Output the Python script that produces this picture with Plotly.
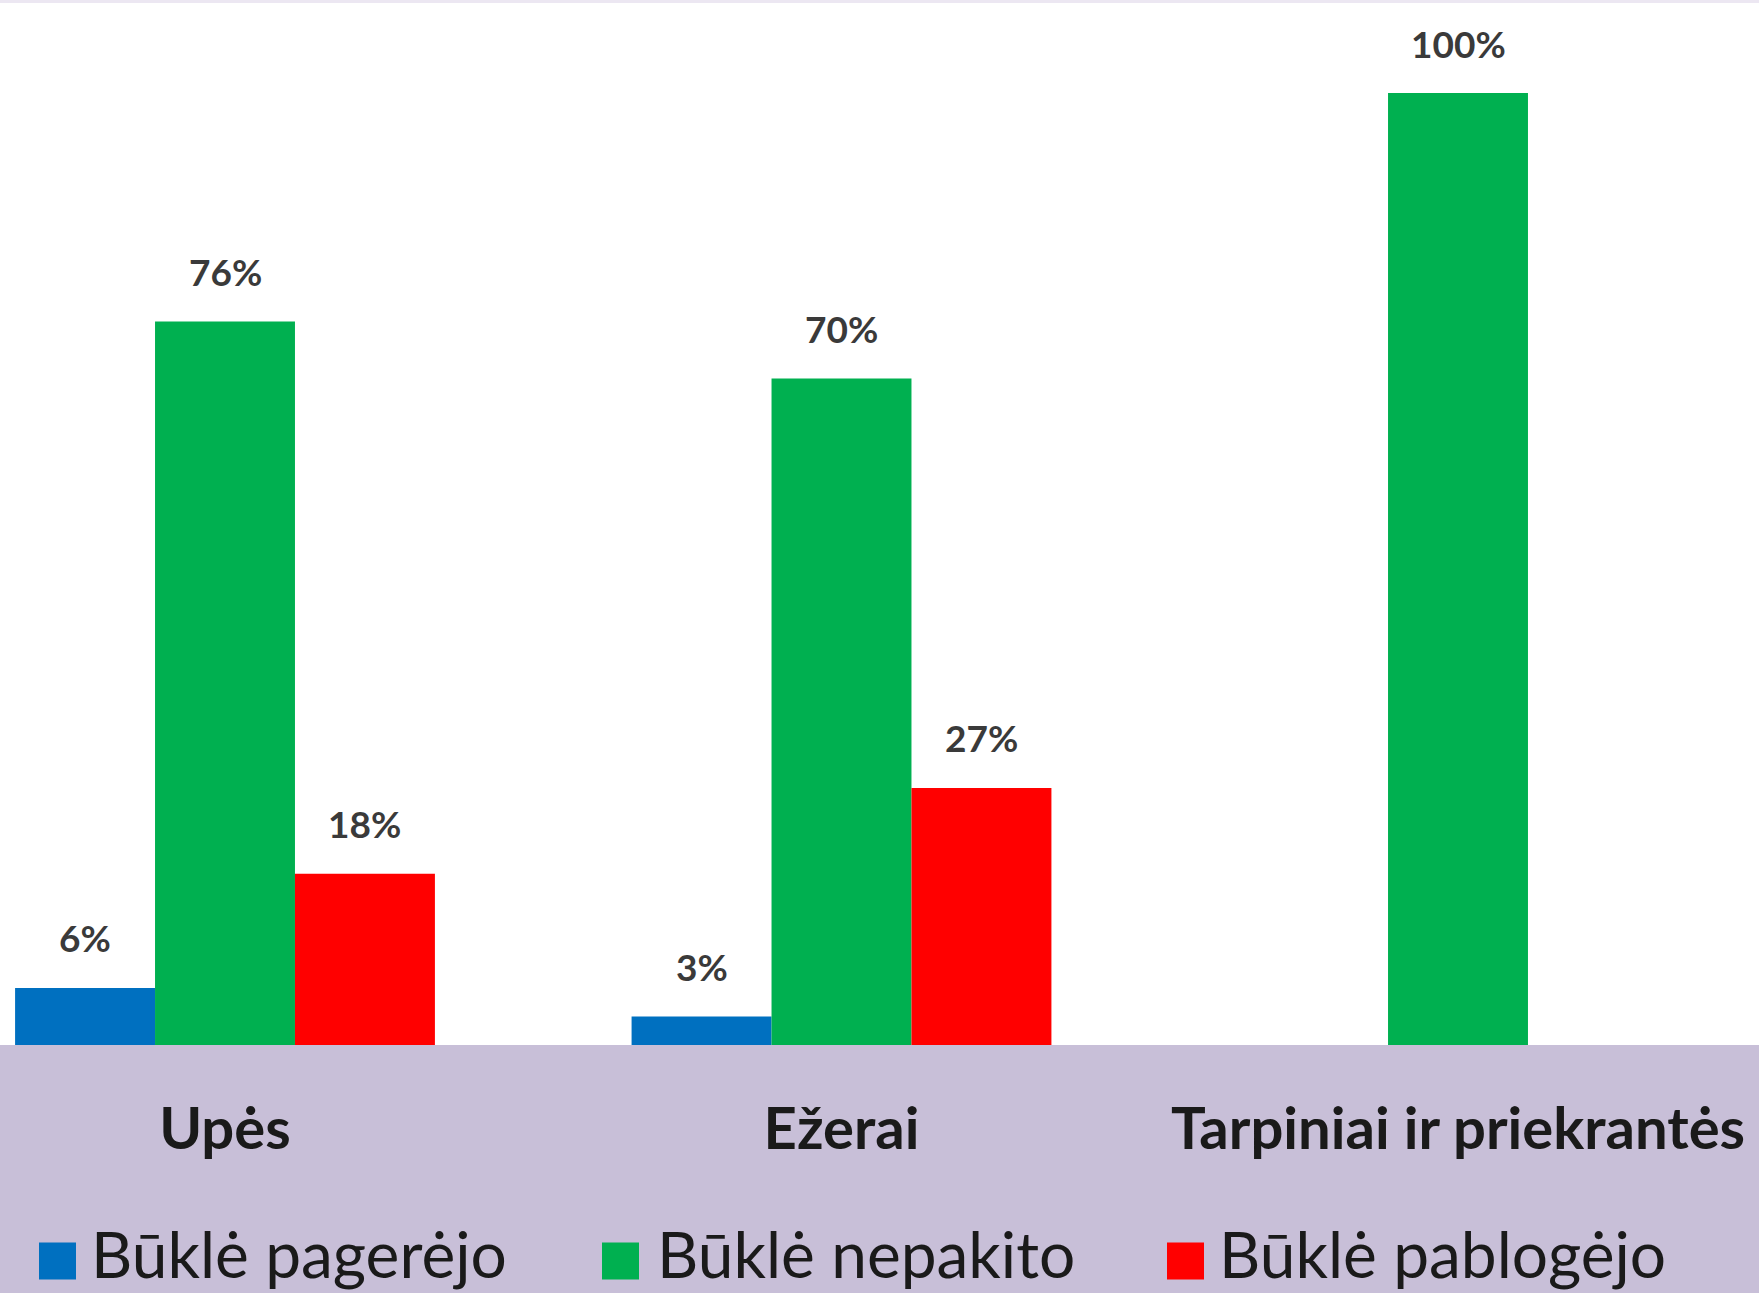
import plotly.graph_objects as go

categories = ["Upės", "Ežerai", "Tarpiniai ir priekrantės"]
series_names = ["Būklė pagerėjo", "Būklė nepakito", "Būklė pablogėjo"]
improved = [6, 3, None]
unchanged = [76, 70, 100]
worsened = [18, 27, None]
colors = ["#0070C0", "#00B050", "#FF0000"]

W, H = 1759, 1293
B = 248  # bottom margin (purple band)
PH = H - B
spacing = 616.5
c0 = 225
bargap = 0.319
bar_px = spacing * (1 - bargap) / 3

fig = go.Figure()
all_series = [improved, unchanged, worsened]
for k, (name, vals, col) in enumerate(zip(series_names, all_series, colors)):
    fig.add_trace(go.Bar(
        x=categories, y=vals, name=name,
        marker=dict(color=col, line=dict(width=0)),
        showlegend=False,
    ))
    for cat, v in zip(categories, vals):
        if v is None:
            continue
        fig.add_annotation(x=cat, y=v, xref="x", yref="y",
                           text=f"{v}%", showarrow=False,
                           xshift=(k - 1) * bar_px, yshift=50,
                           xanchor="center", yanchor="middle",
                           font=dict(family="Lato", size=37, color="#3a3a3a", weight="bold"))

# purple band behind axis labels / legend
fig.add_shape(type="rect", xref="paper", yref="paper",
              x0=0, x1=1, y0=-B / PH, y1=0,
              fillcolor="#C8BFD8", line=dict(width=0), layer="below")
# thin top line
fig.add_shape(type="rect", xref="paper", yref="paper",
              x0=0, x1=1, y0=1 - 3 / PH, y1=1,
              fillcolor="#ECE7F2", line=dict(width=0), layer="below")

# custom legend
leg_sq_x = [39, 602, 1167]
leg_txt_x = [89, 655, 1217]
sq = 37
cy = 1261
ty = 1253
for name, col, sx, tx in zip(series_names, colors, leg_sq_x, leg_txt_x):
    fig.add_shape(type="rect", xref="paper", yref="paper",
                  x0=sx / W, x1=(sx + sq) / W,
                  y0=(PH - (cy + sq / 2)) / PH, y1=(PH - (cy - sq / 2)) / PH,
                  fillcolor=col, line=dict(width=0))
    fig.add_annotation(xref="paper", yref="paper", x=tx / W, y=(PH - ty) / PH,
                       text=name, showarrow=False, xanchor="left", yanchor="middle",
                       font=dict(family="Lato", size=64, color="#1a1a1a"))

fig.update_layout(
    width=W, height=H,
    margin=dict(l=0, r=0, t=0, b=B),
    paper_bgcolor="white", plot_bgcolor="white",
    barmode="group", bargap=bargap, bargroupgap=0,
    xaxis=dict(range=[(0 - c0) / spacing, (W - c0) / spacing],
               showgrid=False, zeroline=False, showline=False,
               ticks="outside", ticklen=33, tickcolor="rgba(0,0,0,0)",
               tickfont=dict(family="Lato", size=58, color="#1a1a1a", weight="bold")),
    yaxis=dict(range=[0, 100 * PH / 952], visible=False, showgrid=False, zeroline=False),
)

fig.write_html("out.html", config={"displayModeBar": False},
               post_script="document.body.style.margin='0';document.body.style.padding='0';")
